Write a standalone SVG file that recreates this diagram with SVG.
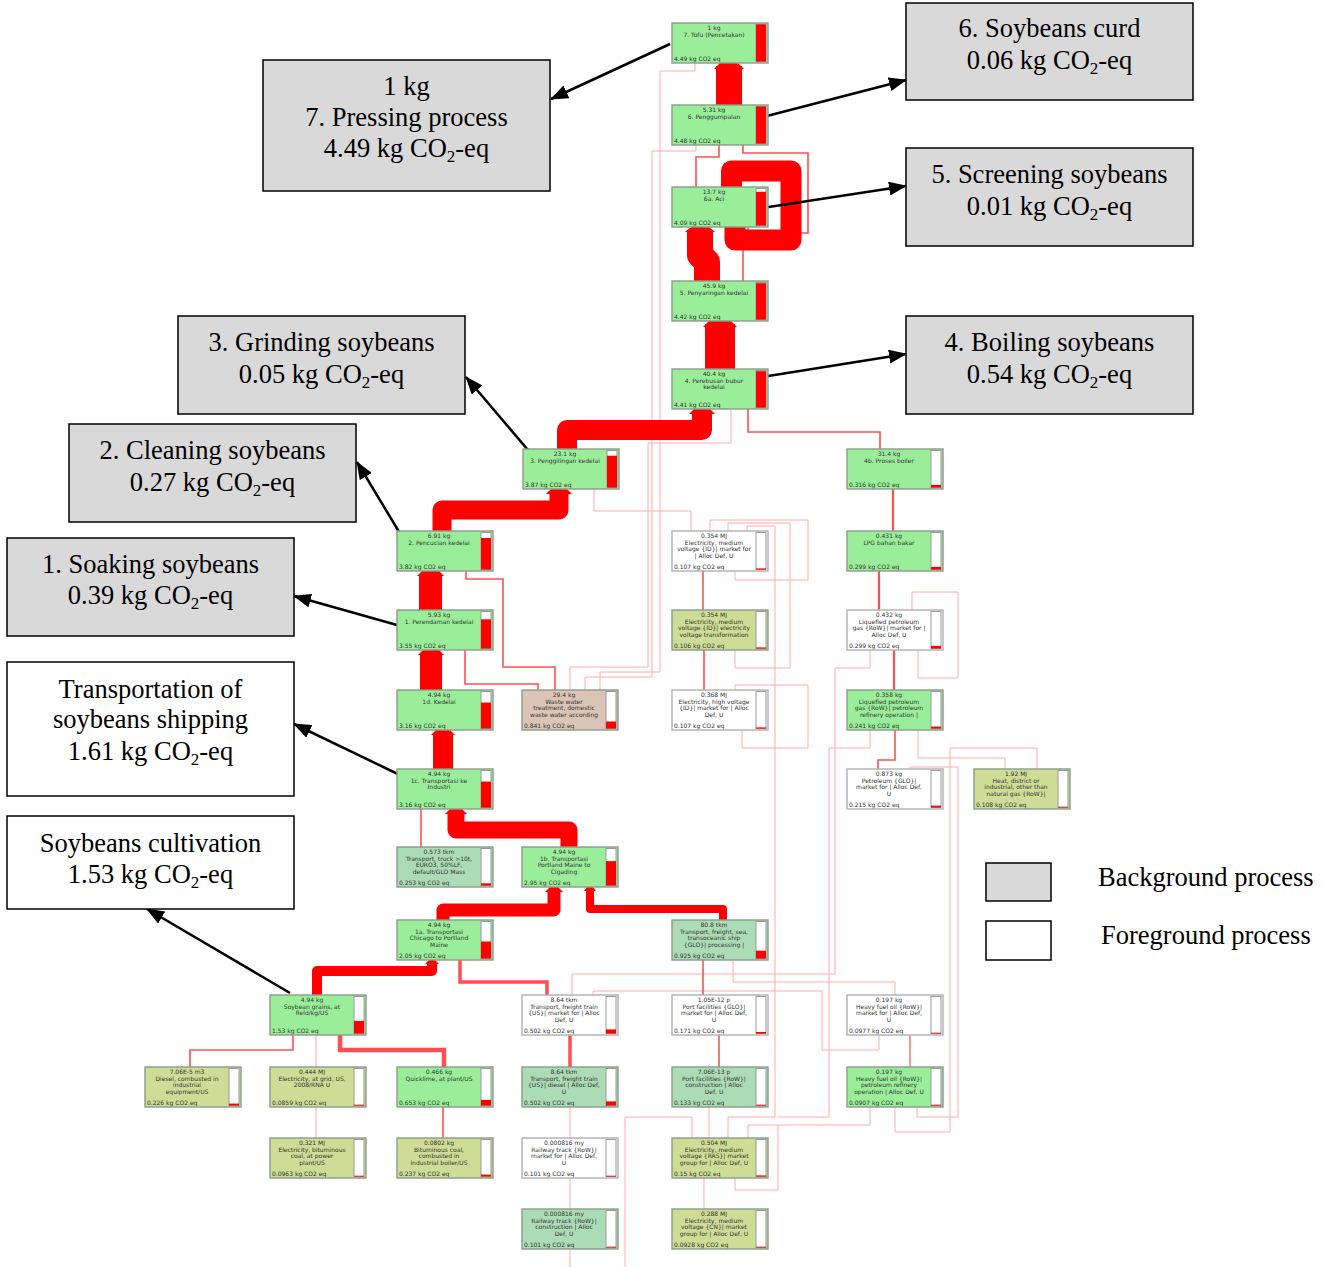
<svg xmlns="http://www.w3.org/2000/svg" width="1325" height="1267" viewBox="0 0 1325 1267">
<style>
.b{stroke:#8a9c8a;stroke-width:1.4}
.gr{fill:#9aee9a}.ol{fill:#cfdc96}.tl{fill:#acdcb6}.tn{fill:#dac4b6}.wh{fill:#fff;stroke:#b0b0b0}
.bb{fill:#fff;stroke:#999;stroke-width:1}
.br{fill:#f00}
.t{font-family:"DejaVu Sans",sans-serif;font-size:6px;fill:#333;text-anchor:middle}
.tb{font-family:"DejaVu Sans",sans-serif;font-size:6px;fill:#333}
.fl{fill:none;stroke:#f00;stroke-linejoin:round}
.ln{fill:none;stroke:#ff5050;stroke-width:1.6}
.lp{fill:none;stroke:#ffaaaa;stroke-width:1}
.co{fill:#d9d9d9;stroke:#000;stroke-width:1.5}
.cw{fill:#fff;stroke:#000;stroke-width:1.5}
.ct{font-family:"Liberation Serif","Times New Roman",serif;font-size:26.5px;fill:#000;text-anchor:middle}
.lt{font-family:"Liberation Serif","Times New Roman",serif;font-size:26.5px;fill:#000}
.ar{stroke:#000;stroke-width:2.5;fill:none;marker-end:url(#ah)}
</style>
<defs>
<marker id="ah" markerUnits="userSpaceOnUse" markerWidth="18" markerHeight="14" refX="17" refY="7" orient="auto"><path d="M0,0 L18,7 L0,14 z" fill="#000"/></marker>
</defs>
<rect width="1325" height="1267" fill="#fff"/>

<g id="connectors">
<!-- light pink thin lines -->
<path class="lp" d="M695,63 V71 H660 V672 H600 V690"/>
<path class="lp" d="M696,145 V151 H652 V677 H585 V690"/>
<path class="lp" d="M731,409 V443 H648 V667 H570 V690"/>
<path class="lp" d="M594,489 V511 H691 V531"/>
<path class="lp" d="M735,571 V580 H808 V520 H710 V531"/>
<path class="lp" d="M735,650 V668 H790 V523 H728 V531"/>
<path class="lp" d="M728,1138 V1117 H775 V526 H747 V531"/>
<path class="lp" d="M742,730 V748 H808 V685 H735 V690"/>
<path class="lp" d="M692,1138 V1117 H625 V1267"/>
<path class="lp" d="M709,1138 V1107"/>
<path class="lp" d="M735,1178 V1190 H778 V1125 H748 V1138"/>
<path class="lp" d="M704,1209 V1178"/>
<path class="lp" d="M570,1138 V1107"/>
<path class="lp" d="M570,1209 V1178"/>
<path class="lp" d="M570,1267 V1249"/>
<path class="lp" d="M316,1067 V1035"/>
<path class="lp" d="M316,1138 V1107"/>
<path class="lp" d="M910,769 V767 H958 V1117 H917 V1107"/>
<path class="lp" d="M1037,769 V748 H950 V1132 H895 V1107"/>
<path class="lp" d="M1005,769 V758 H918 V730"/>
<path class="lp" d="M912,610 V592 H958 V678 H918 V650"/>
<path class="lp" d="M870,730 V748 H829 V1117 H778"/>
<path class="lp" d="M870,1107 V1125 H778"/>
<path class="lp" d="M895,995 V982 H733 V960"/>
<path class="lp" d="M879,1035 V1050 H822 V991 H593 V995"/>
<path class="lp" d="M870,650 V668 H835 V974 H572 V995"/>
<!-- medium red lines -->
<path class="ln" d="M696,187 V157 H719 V145"/>
<path class="ln" d="M748,227 V233 H808 V153 H743 V145"/>
<path class="ln" d="M743,281 V250"/>
<path class="ln" d="M880,449 V432 H748 V409"/>
<path class="ln" d="M893,531 V489" style="stroke-width:2.2"/>
<path class="ln" d="M879,610 V571" style="stroke-width:2.2"/>
<path class="ln" d="M894,690 V650" style="stroke-width:2.2"/>
<path class="ln" d="M703,610 V571"/>
<path class="ln" d="M704,690 V650"/>
<path class="ln" d="M421,847 V809"/>
<path class="ln" d="M703,995 V960"/>
<path class="ln" d="M719,1067 V1035"/>
<path class="ln" d="M190,1067 V1050 H293 V1035"/>
<path class="ln" d="M443,1138 V1107"/>
<path class="ln" d="M555,690 V667 H503 V579 H466 V571"/>
<path class="ln" d="M538,690 V684 H465 V650"/>
<path class="ln" d="M878,769 V760 H895 V730"/>
<path class="ln" d="M910,1067 V1035" style="stroke-width:1.2"/>
<path class="ln" d="M460,960 V982 H547 V995" style="stroke-width:3.5"/>
<path class="ln" d="M570,1067 V1035" style="stroke-width:3.5"/>
<path class="ln" d="M444,1067 V1050 H340 V1035" style="stroke-width:4.5"/>
<!-- thick flows -->
<path class="fl" d="M729,105 V66" style="stroke-width:26"/>
<path class="fl" d="M735,227 V240 H791 V171 H731.5 V187" style="stroke-width:21"/>
<path class="fl" d="M707,281 V262 L700,255 V230" style="stroke-width:26"/>
<path class="fl" d="M720,369 V324" style="stroke-width:30"/>
<path class="fl" d="M567,449 V430 H702 V412" style="stroke-width:20"/>
<path class="fl" d="M442,531 V510 H559 V492" style="stroke-width:19"/>
<path class="fl" d="M430.5,610 V574" style="stroke-width:23"/>
<path class="fl" d="M431,690 V653" style="stroke-width:22"/>
<path class="fl" d="M443,769 V733" style="stroke-width:20"/>
<path class="fl" d="M569,847 V830 H456 V812" style="stroke-width:17"/>
<path class="fl" d="M443,920 V910 H554 V890" style="stroke-width:13"/>
<path class="fl" d="M723,920 V909 H590 V889" style="stroke-width:8"/>
<path class="fl" d="M317,995 V971 H432 V962" style="stroke-width:10"/>
<!-- flow heads -->
<g fill="#f00">
<polygon points="714,69 720,63 738,63 744,69"/>
<polygon points="685,232 691,227 709,227 715,232"/>
<polygon points="703,327 709,321 731,321 737,327"/>
<polygon points="689,414 694,409 710,409 715,414"/>
<polygon points="546,494 551,489 567,489 572,494"/>
<polygon points="417,576 422,571 439,571 444,576"/>
<polygon points="418,655 423,650 439,650 444,655"/>
<polygon points="431,735 436,730 450,730 455,735"/>
<polygon points="445,814 450,809 462,809 467,814"/>
<polygon points="545,892 550,887 558,887 563,892"/>
<polygon points="584,891 587,887 593,887 596,891"/>
<polygon points="425,964 429,960 435,960 439,964"/>
</g>
</g>

<!-- callout arrows -->
<g id="callout-arrows">
<line class="ar" x1="670" y1="44" x2="551" y2="99"/>
<line class="ar" x1="763" y1="117" x2="906" y2="80"/>
<line class="ar" x1="762" y1="208" x2="906" y2="186"/>
<line class="ar" x1="762" y1="377" x2="906" y2="354"/>
<line class="ar" x1="528" y1="450" x2="466" y2="377"/>
<line class="ar" x1="404" y1="540" x2="357" y2="462"/>
<line class="ar" x1="404" y1="627" x2="294" y2="596"/>
<line class="ar" x1="404" y1="777" x2="294" y2="724"/>
<line class="ar" x1="290" y1="993" x2="147" y2="909"/>
</g>

<!-- nodes -->
<g id="n-tofu"><rect class="b gr" x="672" y="23" width="96" height="40"/><rect class="bb" x="756" y="24.5" width="10" height="37"/><rect class="br" x="756" y="24.5" width="10" height="37"/><text class="t" y="30"><tspan x="714">1 kg</tspan><tspan x="714" dy="6.6">7. Tofu (Pencetakan)</tspan></text><text class="tb" x="674" y="60.5">4.49 kg CO2 eq</text></g>
<g id="n-penggumpalan"><rect class="b gr" x="672" y="105" width="96" height="40"/><rect class="bb" x="756" y="106.5" width="10" height="37"/><rect class="br" x="756" y="106.5" width="10" height="37"/><text class="t" y="112"><tspan x="714">5.31 kg</tspan><tspan x="714" dy="6.6">6. Penggumpalan</tspan></text><text class="tb" x="674" y="142.5">4.48 kg CO2 eq</text></g>
<g id="n-aci"><rect class="b gr" x="672" y="187" width="96" height="40"/><rect class="bb" x="756" y="188.5" width="10" height="37"/><rect class="br" x="756" y="191.8" width="10" height="33.7"/><text class="t" y="194"><tspan x="714">13.7 kg</tspan><tspan x="714" dy="6.6">6a. Aci</tspan></text><text class="tb" x="674" y="224.5">4.09 kg CO2 eq</text></g>
<g id="n-penyaringan"><rect class="b gr" x="672" y="281" width="96" height="40"/><rect class="bb" x="756" y="282.5" width="10" height="37"/><rect class="br" x="756" y="283.2" width="10" height="36.3"/><text class="t" y="288"><tspan x="714">45.9 kg</tspan><tspan x="714" dy="6.6">5. Penyaringan kedelai</tspan></text><text class="tb" x="674" y="318.5">4.42 kg CO2 eq</text></g>
<g id="n-perebusan"><rect class="b gr" x="672" y="369" width="96" height="40"/><rect class="bb" x="756" y="370.5" width="10" height="37"/><rect class="br" x="756" y="371.2" width="10" height="36.3"/><text class="t" y="376"><tspan x="714">40.4 kg</tspan><tspan x="714" dy="6.6">4. Perebusan bubur</tspan><tspan x="714" dy="6.6">kedelai</tspan></text><text class="tb" x="674" y="406.5">4.41 kg CO2 eq</text></g>
<g id="n-penggilingan"><rect class="b gr" x="523" y="449" width="96" height="40"/><rect class="bb" x="607" y="450.5" width="10" height="37"/><rect class="br" x="607" y="455.7" width="10" height="31.8"/><text class="t" y="456"><tspan x="565">23.1 kg</tspan><tspan x="565" dy="6.6">3. Penggilingan kedelai</tspan></text><text class="tb" x="525" y="486.5">3.87 kg CO2 eq</text></g>
<g id="n-boiler"><rect class="b gr" x="847" y="449" width="96" height="40"/><rect class="bb" x="931" y="450.5" width="10" height="37"/><rect class="br" x="931" y="484.9" width="10" height="2.6"/><text class="t" y="456"><tspan x="889">31.4 kg</tspan><tspan x="889" dy="6.6">4b. Proses boiler</tspan></text><text class="tb" x="849" y="486.5">0.316 kg CO2 eq</text></g>
<g id="n-pencucian"><rect class="b gr" x="397" y="531" width="96" height="40"/><rect class="bb" x="481" y="532.5" width="10" height="37"/><rect class="br" x="481" y="538" width="10" height="31.5"/><text class="t" y="538"><tspan x="439">6.91 kg</tspan><tspan x="439" dy="6.6">2. Pencucian kedelai</tspan></text><text class="tb" x="399" y="568.5">3.82 kg CO2 eq</text></g>
<g id="n-elec-mv-market"><rect class="b wh" x="672" y="531" width="96" height="40"/><rect class="bb" x="756" y="532.5" width="10" height="37"/><rect class="br" x="756" y="568.4" width="10" height="1.1"/><text class="t" y="538"><tspan x="714">0.354 MJ</tspan><tspan x="714" dy="6.6">Electricity, medium</tspan><tspan x="714" dy="6.6">voltage {ID}| market for</tspan><tspan x="714" dy="6.6">| Alloc Def, U</tspan></text><text class="tb" x="674" y="568.5">0.107 kg CO2 eq</text></g>
<g id="n-lpg"><rect class="b gr" x="847" y="531" width="96" height="40"/><rect class="bb" x="931" y="532.5" width="10" height="37"/><rect class="br" x="931" y="566.9" width="10" height="2.6"/><text class="t" y="538"><tspan x="889">0.431 kg</tspan><tspan x="889" dy="6.6">LPG bahan bakar</tspan></text><text class="tb" x="849" y="568.5">0.299 kg CO2 eq</text></g>
<g id="n-perendaman"><rect class="b gr" x="397" y="610" width="96" height="40"/><rect class="bb" x="481" y="611.5" width="10" height="37"/><rect class="br" x="481" y="619.3" width="10" height="29.2"/><text class="t" y="617"><tspan x="439">5.93 kg</tspan><tspan x="439" dy="6.6">1. Perendaman kedelai</tspan></text><text class="tb" x="399" y="647.5">3.55 kg CO2 eq</text></g>
<g id="n-elec-transformation"><rect class="b ol" x="672" y="610" width="96" height="40"/><rect class="bb" x="756" y="611.5" width="10" height="37"/><rect class="br" x="756" y="647.4" width="10" height="1.1"/><text class="t" y="617"><tspan x="714">0.354 MJ</tspan><tspan x="714" dy="6.6">Electricity, medium</tspan><tspan x="714" dy="6.6">voltage {ID}| electricity</tspan><tspan x="714" dy="6.6">voltage transformation</tspan></text><text class="tb" x="674" y="647.5">0.106 kg CO2 eq</text></g>
<g id="n-lpg-market"><rect class="b wh" x="847" y="610" width="96" height="40"/><rect class="bb" x="931" y="611.5" width="10" height="37"/><rect class="br" x="931" y="645.9" width="10" height="2.6"/><text class="t" y="617"><tspan x="889">0.432 kg</tspan><tspan x="889" dy="6.6">Liquefied petroleum</tspan><tspan x="889" dy="6.6">gas {RoW}| market for |</tspan><tspan x="889" dy="6.6">Alloc Def, U</tspan></text><text class="tb" x="849" y="647.5">0.299 kg CO2 eq</text></g>
<g id="n-kedelai"><rect class="b gr" x="397" y="690" width="96" height="40"/><rect class="bb" x="481" y="691.5" width="10" height="37"/><rect class="br" x="481" y="702.6" width="10" height="25.9"/><text class="t" y="697"><tspan x="439">4.94 kg</tspan><tspan x="439" dy="6.6">1d. Kedelai</tspan></text><text class="tb" x="399" y="727.5">3.16 kg CO2 eq</text></g>
<g id="n-waste-water"><rect class="b tn" x="522" y="690" width="96" height="40"/><rect class="bb" x="606" y="691.5" width="10" height="37"/><rect class="br" x="606" y="721.5" width="10" height="7"/><text class="t" y="697"><tspan x="564">29.4 kg</tspan><tspan x="564" dy="6.6">Waste water</tspan><tspan x="564" dy="6.6">treatment, domestic</tspan><tspan x="564" dy="6.6">waste water according</tspan></text><text class="tb" x="524" y="727.5">0.841 kg CO2 eq</text></g>
<g id="n-elec-hv"><rect class="b wh" x="672" y="690" width="96" height="40"/><rect class="bb" x="756" y="691.5" width="10" height="37"/><rect class="br" x="756" y="727.4" width="10" height="1.1"/><text class="t" y="697"><tspan x="714">0.368 MJ</tspan><tspan x="714" dy="6.6">Electricity, high voltage</tspan><tspan x="714" dy="6.6">{ID}| market for | Alloc</tspan><tspan x="714" dy="6.6">Def, U</tspan></text><text class="tb" x="674" y="727.5">0.107 kg CO2 eq</text></g>
<g id="n-lpg-refinery"><rect class="b gr" x="847" y="690" width="96" height="40"/><rect class="bb" x="931" y="691.5" width="10" height="37"/><rect class="br" x="931" y="726.6" width="10" height="1.9"/><text class="t" y="697"><tspan x="889">0.358 kg</tspan><tspan x="889" dy="6.6">Liquefied petroleum</tspan><tspan x="889" dy="6.6">gas {RoW}| petroleum</tspan><tspan x="889" dy="6.6">refinery operation |</tspan></text><text class="tb" x="849" y="727.5">0.241 kg CO2 eq</text></g>
<g id="n-transport-industri"><rect class="b gr" x="397" y="769" width="96" height="40"/><rect class="bb" x="481" y="770.5" width="10" height="37"/><rect class="br" x="481" y="781.6" width="10" height="25.9"/><text class="t" y="776"><tspan x="439">4.94 kg</tspan><tspan x="439" dy="6.6">1c. Transportasi ke</tspan><tspan x="439" dy="6.6">Industri</tspan></text><text class="tb" x="399" y="806.5">3.16 kg CO2 eq</text></g>
<g id="n-petroleum"><rect class="b wh" x="847" y="769" width="96" height="40"/><rect class="bb" x="931" y="770.5" width="10" height="37"/><rect class="br" x="931" y="805.6" width="10" height="1.9"/><text class="t" y="776"><tspan x="889">0.873 kg</tspan><tspan x="889" dy="6.6">Petroleum {GLO}|</tspan><tspan x="889" dy="6.6">market for | Alloc Def,</tspan><tspan x="889" dy="6.6">U</tspan></text><text class="tb" x="849" y="806.5">0.215 kg CO2 eq</text></g>
<g id="n-heat"><rect class="b ol" x="974" y="769" width="96" height="40"/><rect class="bb" x="1058" y="770.5" width="10" height="37"/><rect class="br" x="1058" y="806.7" width="10" height="0.8"/><text class="t" y="776"><tspan x="1016">1.92 MJ</tspan><tspan x="1016" dy="6.6">Heat, district or</tspan><tspan x="1016" dy="6.6">industrial, other than</tspan><tspan x="1016" dy="6.6">natural gas {RoW}|</tspan></text><text class="tb" x="976" y="806.5">0.108 kg CO2 eq</text></g>
<g id="n-truck"><rect class="b tl" x="397" y="847" width="96" height="40"/><rect class="bb" x="481" y="848.5" width="10" height="37"/><rect class="br" x="481" y="883.3" width="10" height="2.2"/><text class="t" y="854"><tspan x="439">0.573 tkm</tspan><tspan x="439" dy="6.6">Transport, truck &gt;10t,</tspan><tspan x="439" dy="6.6">EURO3, 50%LF,</tspan><tspan x="439" dy="6.6">default/GLO Mass</tspan></text><text class="tb" x="399" y="884.5">0.253 kg CO2 eq</text></g>
<g id="n-portland"><rect class="b gr" x="522" y="847" width="96" height="40"/><rect class="bb" x="606" y="848.5" width="10" height="37"/><rect class="br" x="606" y="861.1" width="10" height="24.4"/><text class="t" y="854"><tspan x="564">4.94 kg</tspan><tspan x="564" dy="6.6">1b. Transportasi</tspan><tspan x="564" dy="6.6">Portland Maine to</tspan><tspan x="564" dy="6.6">Cigading</tspan></text><text class="tb" x="524" y="884.5">2.95 kg CO2 eq</text></g>
<g id="n-chicago"><rect class="b gr" x="397" y="920" width="96" height="40"/><rect class="bb" x="481" y="921.5" width="10" height="37"/><rect class="br" x="481" y="941.5" width="10" height="17"/><text class="t" y="927"><tspan x="439">4.94 kg</tspan><tspan x="439" dy="6.6">1a. Transportasi</tspan><tspan x="439" dy="6.6">Chicago to Portland</tspan><tspan x="439" dy="6.6">Maine</tspan></text><text class="tb" x="399" y="957.5">2.05 kg CO2 eq</text></g>
<g id="n-ship"><rect class="b tl" x="672" y="920" width="96" height="40"/><rect class="bb" x="756" y="921.5" width="10" height="37"/><rect class="br" x="756" y="950.7" width="10" height="7.8"/><text class="t" y="927"><tspan x="714">80.8 tkm</tspan><tspan x="714" dy="6.6">Transport, freight, sea,</tspan><tspan x="714" dy="6.6">transoceanic ship</tspan><tspan x="714" dy="6.6">{GLO}| processing |</tspan></text><text class="tb" x="674" y="957.5">0.925 kg CO2 eq</text></g>
<g id="n-soybean-grains"><rect class="b gr" x="270" y="995" width="96" height="40"/><rect class="bb" x="354" y="996.5" width="10" height="37"/><rect class="br" x="354" y="1020.9" width="10" height="12.6"/><text class="t" y="1002"><tspan x="312">4.94 kg</tspan><tspan x="312" dy="6.6">Soybean grains, at</tspan><tspan x="312" dy="6.6">field/kg/US</tspan></text><text class="tb" x="272" y="1032.5">1.53 kg CO2 eq</text></g>
<g id="n-train-market"><rect class="b wh" x="522" y="995" width="96" height="40"/><rect class="bb" x="606" y="996.5" width="10" height="37"/><rect class="br" x="606" y="1029.4" width="10" height="4.1"/><text class="t" y="1002"><tspan x="564">8.64 tkm</tspan><tspan x="564" dy="6.6">Transport, freight train</tspan><tspan x="564" dy="6.6">{US}| market for | Alloc</tspan><tspan x="564" dy="6.6">Def, U</tspan></text><text class="tb" x="524" y="1032.5">0.502 kg CO2 eq</text></g>
<g id="n-port-glo"><rect class="b wh" x="672" y="995" width="96" height="40"/><rect class="bb" x="756" y="996.5" width="10" height="37"/><rect class="br" x="756" y="1032" width="10" height="1.5"/><text class="t" y="1002"><tspan x="714">1.05E-12 p</tspan><tspan x="714" dy="6.6">Port facilities {GLO}|</tspan><tspan x="714" dy="6.6">market for | Alloc Def,</tspan><tspan x="714" dy="6.6">U</tspan></text><text class="tb" x="674" y="1032.5">0.171 kg CO2 eq</text></g>
<g id="n-hfo-market"><rect class="b wh" x="847" y="995" width="96" height="40"/><rect class="bb" x="931" y="996.5" width="10" height="37"/><rect class="br" x="931" y="1032.7" width="10" height="0.8"/><text class="t" y="1002"><tspan x="889">0.197 kg</tspan><tspan x="889" dy="6.6">Heavy fuel oil {RoW}|</tspan><tspan x="889" dy="6.6">market for | Alloc Def,</tspan><tspan x="889" dy="6.6">U</tspan></text><text class="tb" x="849" y="1032.5">0.0977 kg CO2 eq</text></g>
<g id="n-diesel"><rect class="b ol" x="145" y="1067" width="96" height="40"/><rect class="bb" x="229" y="1068.5" width="10" height="37"/><rect class="br" x="229" y="1103.6" width="10" height="1.9"/><text class="t" y="1074"><tspan x="187">7.06E-5 m3</tspan><tspan x="187" dy="6.6">Diesel, combusted in</tspan><tspan x="187" dy="6.6">industrial</tspan><tspan x="187" dy="6.6">equipment/US</tspan></text><text class="tb" x="147" y="1104.5">0.226 kg CO2 eq</text></g>
<g id="n-elec-grid"><rect class="b ol" x="270" y="1067" width="96" height="40"/><rect class="bb" x="354" y="1068.5" width="10" height="37"/><rect class="br" x="354" y="1104.7" width="10" height="0.8"/><text class="t" y="1074"><tspan x="312">0.444 MJ</tspan><tspan x="312" dy="6.6">Electricity, at grid, US,</tspan><tspan x="312" dy="6.6">2008/RNA U</tspan></text><text class="tb" x="272" y="1104.5">0.0859 kg CO2 eq</text></g>
<g id="n-quicklime"><rect class="b gr" x="397" y="1067" width="96" height="40"/><rect class="bb" x="481" y="1068.5" width="10" height="37"/><rect class="br" x="481" y="1099.9" width="10" height="5.6"/><text class="t" y="1074"><tspan x="439">0.466 kg</tspan><tspan x="439" dy="6.6">Quicklime, at plant/US</tspan></text><text class="tb" x="399" y="1104.5">0.653 kg CO2 eq</text></g>
<g id="n-train-diesel"><rect class="b tl" x="522" y="1067" width="96" height="40"/><rect class="bb" x="606" y="1068.5" width="10" height="37"/><rect class="br" x="606" y="1101.4" width="10" height="4.1"/><text class="t" y="1074"><tspan x="564">8.64 tkm</tspan><tspan x="564" dy="6.6">Transport, freight train</tspan><tspan x="564" dy="6.6">{US}| diesel | Alloc Def,</tspan><tspan x="564" dy="6.6">U</tspan></text><text class="tb" x="524" y="1104.5">0.502 kg CO2 eq</text></g>
<g id="n-port-row"><rect class="b tl" x="672" y="1067" width="96" height="40"/><rect class="bb" x="756" y="1068.5" width="10" height="37"/><rect class="br" x="756" y="1104.7" width="10" height="0.8"/><text class="t" y="1074"><tspan x="714">7.06E-13 p</tspan><tspan x="714" dy="6.6">Port facilities {RoW}|</tspan><tspan x="714" dy="6.6">construction | Alloc</tspan><tspan x="714" dy="6.6">Def, U</tspan></text><text class="tb" x="674" y="1104.5">0.133 kg CO2 eq</text></g>
<g id="n-hfo-refinery"><rect class="b gr" x="847" y="1067" width="96" height="40"/><rect class="bb" x="931" y="1068.5" width="10" height="37"/><rect class="br" x="931" y="1104.7" width="10" height="0.8"/><text class="t" y="1074"><tspan x="889">0.197 kg</tspan><tspan x="889" dy="6.6">Heavy fuel oil {RoW}|</tspan><tspan x="889" dy="6.6">petroleum refinery</tspan><tspan x="889" dy="6.6">operation | Alloc Def, U</tspan></text><text class="tb" x="849" y="1104.5">0.0907 kg CO2 eq</text></g>
<g id="n-elec-bituminous"><rect class="b ol" x="270" y="1138" width="96" height="40"/><rect class="bb" x="354" y="1139.5" width="10" height="37"/><rect class="br" x="354" y="1175.7" width="10" height="0.8"/><text class="t" y="1145"><tspan x="312">0.321 MJ</tspan><tspan x="312" dy="6.6">Electricity, bituminous</tspan><tspan x="312" dy="6.6">coal, at power</tspan><tspan x="312" dy="6.6">plant/US</tspan></text><text class="tb" x="272" y="1175.5">0.0963 kg CO2 eq</text></g>
<g id="n-bituminous-coal"><rect class="b ol" x="397" y="1138" width="96" height="40"/><rect class="bb" x="481" y="1139.5" width="10" height="37"/><rect class="br" x="481" y="1174.6" width="10" height="1.9"/><text class="t" y="1145"><tspan x="439">0.0802 kg</tspan><tspan x="439" dy="6.6">Bituminous coal,</tspan><tspan x="439" dy="6.6">combusted in</tspan><tspan x="439" dy="6.6">industrial boiler/US</tspan></text><text class="tb" x="399" y="1175.5">0.237 kg CO2 eq</text></g>
<g id="n-railway-market"><rect class="b wh" x="522" y="1138" width="96" height="40"/><rect class="bb" x="606" y="1139.5" width="10" height="37"/><rect class="br" x="606" y="1175.7" width="10" height="0.8"/><text class="t" y="1145"><tspan x="564">0.000816 my</tspan><tspan x="564" dy="6.6">Railway track {RoW}|</tspan><tspan x="564" dy="6.6">market for | Alloc Def,</tspan><tspan x="564" dy="6.6">U</tspan></text><text class="tb" x="524" y="1175.5">0.101 kg CO2 eq</text></g>
<g id="n-elec-ras"><rect class="b ol" x="672" y="1138" width="96" height="40"/><rect class="bb" x="756" y="1139.5" width="10" height="37"/><rect class="br" x="756" y="1175.4" width="10" height="1.1"/><text class="t" y="1145"><tspan x="714">0.504 MJ</tspan><tspan x="714" dy="6.6">Electricity, medium</tspan><tspan x="714" dy="6.6">voltage {RAS}| market</tspan><tspan x="714" dy="6.6">group for | Alloc Def, U</tspan></text><text class="tb" x="674" y="1175.5">0.15 kg CO2 eq</text></g>
<g id="n-railway-construction"><rect class="b tl" x="522" y="1209" width="96" height="40"/><rect class="bb" x="606" y="1210.5" width="10" height="37"/><rect class="br" x="606" y="1246.7" width="10" height="0.8"/><text class="t" y="1216"><tspan x="564">0.000816 my</tspan><tspan x="564" dy="6.6">Railway track {RoW}|</tspan><tspan x="564" dy="6.6">construction | Alloc</tspan><tspan x="564" dy="6.6">Def, U</tspan></text><text class="tb" x="524" y="1246.5">0.101 kg CO2 eq</text></g>
<g id="n-elec-cn"><rect class="b ol" x="672" y="1209" width="96" height="40"/><rect class="bb" x="756" y="1210.5" width="10" height="37"/><rect class="br" x="756" y="1246.7" width="10" height="0.8"/><text class="t" y="1216"><tspan x="714">0.288 MJ</tspan><tspan x="714" dy="6.6">Electricity, medium</tspan><tspan x="714" dy="6.6">voltage {CN}| market</tspan><tspan x="714" dy="6.6">group for | Alloc Def, U</tspan></text><text class="tb" x="674" y="1246.5">0.0928 kg CO2 eq</text></g>

<!-- callouts -->
<g id="c-pressing"><rect class="co" x="263" y="60" width="287" height="131"/><text class="ct" x="406.5" y="95">1 kg</text><text class="ct" x="406.5" y="126">7. Pressing process</text><text class="ct" x="406.5" y="157">4.49 kg CO<tspan font-size="17" dy="5">2</tspan><tspan dy="-5">-eq</tspan></text></g>
<g id="c-curd"><rect class="co" x="906" y="3" width="287" height="97"/><text class="ct" x="1049.5" y="37">6. Soybeans curd</text><text class="ct" x="1049.5" y="69">0.06 kg CO<tspan font-size="17" dy="5">2</tspan><tspan dy="-5">-eq</tspan></text></g>
<g id="c-screening"><rect class="co" x="906" y="148" width="287" height="98"/><text class="ct" x="1049.5" y="183">5. Screening soybeans</text><text class="ct" x="1049.5" y="215">0.01 kg CO<tspan font-size="17" dy="5">2</tspan><tspan dy="-5">-eq</tspan></text></g>
<g id="c-boiling"><rect class="co" x="906" y="316" width="287" height="98"/><text class="ct" x="1049.5" y="351">4. Boiling soybeans</text><text class="ct" x="1049.5" y="383">0.54 kg CO<tspan font-size="17" dy="5">2</tspan><tspan dy="-5">-eq</tspan></text></g>
<g id="c-grinding"><rect class="co" x="178" y="316" width="287" height="98"/><text class="ct" x="321.5" y="351">3. Grinding soybeans</text><text class="ct" x="321.5" y="383">0.05 kg CO<tspan font-size="17" dy="5">2</tspan><tspan dy="-5">-eq</tspan></text></g>
<g id="c-cleaning"><rect class="co" x="69" y="424" width="287" height="98"/><text class="ct" x="212.5" y="459">2. Cleaning soybeans</text><text class="ct" x="212.5" y="491">0.27 kg CO<tspan font-size="17" dy="5">2</tspan><tspan dy="-5">-eq</tspan></text></g>
<g id="c-soaking"><rect class="co" x="7" y="538" width="287" height="98"/><text class="ct" x="150.5" y="573">1. Soaking soybeans</text><text class="ct" x="150.5" y="604">0.39 kg CO<tspan font-size="17" dy="5">2</tspan><tspan dy="-5">-eq</tspan></text></g>
<g id="c-transport"><rect class="cw" x="7" y="662" width="287" height="134"/><text class="ct" x="150.5" y="698">Transportation of</text><text class="ct" x="150.5" y="728">soybeans shipping</text><text class="ct" x="150.5" y="760">1.61 kg CO<tspan font-size="17" dy="5">2</tspan><tspan dy="-5">-eq</tspan></text></g>
<g id="c-cultivation"><rect class="cw" x="7" y="816" width="287" height="93"/><text class="ct" x="150.5" y="852">Soybeans cultivation</text><text class="ct" x="150.5" y="883">1.53 kg CO<tspan font-size="17" dy="5">2</tspan><tspan dy="-5">-eq</tspan></text></g>

<!-- legend -->
<g id="legend">
<rect class="co" x="986" y="863" width="65" height="38"/>
<text class="lt" x="1098" y="886">Background process</text>
<rect class="cw" x="986" y="921" width="65" height="39"/>
<text class="lt" x="1101" y="944">Foreground process</text>
</g>
</svg>
